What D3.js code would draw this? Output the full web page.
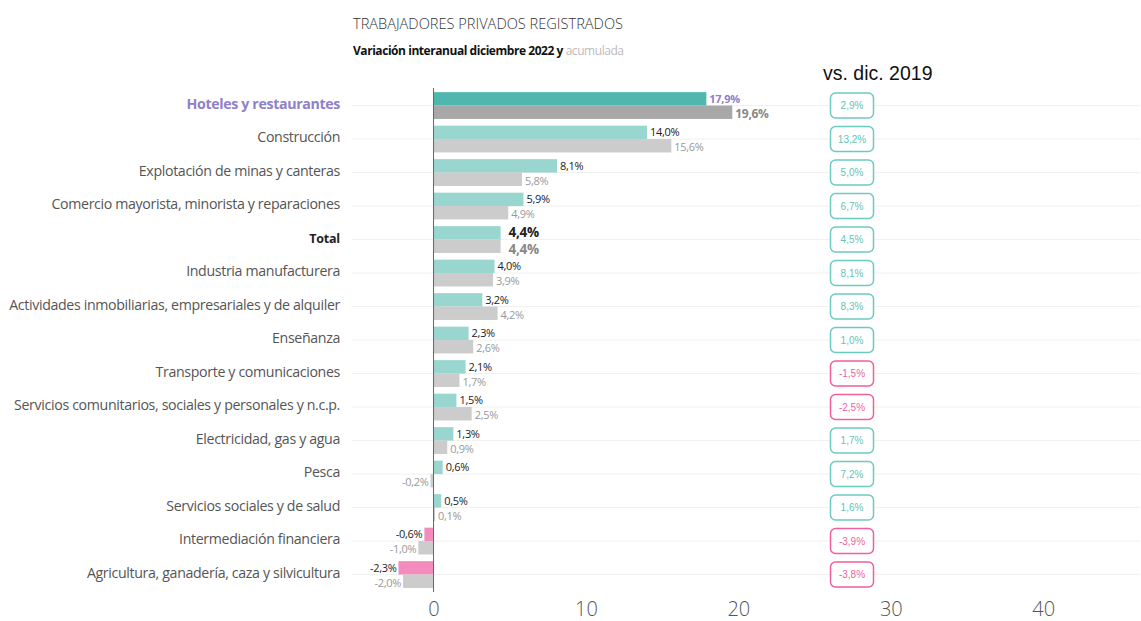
<!DOCTYPE html>
<html><head><meta charset="utf-8">
<script src="https://cdn.jsdelivr.net/npm/d3@7"></script>
<style>body{margin:0;background:#fff;} svg{display:block;}</style>
</head><body>
<svg id="chart" width="1141" height="621"></svg>
<script>
const categories = [
  "Hoteles y restaurantes","Construcción","Explotación de minas y canteras",
  "Comercio mayorista, minorista y reparaciones","Total","Industria manufacturera",
  "Actividades inmobiliarias, empresariales y de alquiler","Enseñanza",
  "Transporte y comunicaciones","Servicios comunitarios, sociales y personales y n.c.p.",
  "Electricidad, gas y agua","Pesca","Servicios sociales y de salud",
  "Intermediación financiera","Agricultura, ganadería, caza y silvicultura"];
const interanual = [17.9,14.0,8.1,5.9,4.4,4.0,3.2,2.3,2.1,1.5,1.3,0.6,0.5,-0.6,-2.3];
const acumulada  = [19.6,15.6,5.8,4.9,4.4,3.9,4.2,2.6,1.7,2.5,0.9,-0.2,0.1,-1.0,-2.0];
const vsDic2019  = [2.9,13.2,5.0,6.7,4.5,8.1,8.3,1.0,-1.5,-2.5,1.7,7.2,1.6,-3.9,-3.8];
const xTicks = [0,10,20,30,40];
const highlight = "Hoteles y restaurantes";
const totalCat = "Total";

const fmt = v => v.toFixed(1).replace(".", ",") + "%";
const svg = d3.select("#chart");
const x = d3.scaleLinear().domain([-5.35, 46.35]).range([352, 1140]);
const y = d3.scaleBand().domain(categories).range([88.5, 591]).paddingInner(0).paddingOuter(0);
const bh = 13.4;
const mid = c => y(c) + y.bandwidth()/2 + 0.3;

// title
svg.append("text").attr("x",353).attr("y",29).attr("font-family","Open Sans").attr("font-size",14.6)
  .attr("fill","#333").attr("font-weight",300).text("TRABAJADORES PRIVADOS REGISTRADOS");
const sub = svg.append("text").attr("x",353).attr("y",55).attr("font-family","Open Sans")
  .attr("font-size",12).attr("font-weight",700).attr("letter-spacing",-0.45).attr("fill","#111");
sub.append("tspan").text("Variación interanual diciembre 2022 y ");
sub.append("tspan").attr("fill","#bbb").attr("font-weight",400).text("acumulada");

svg.append("text").attr("x",823).attr("y",80).attr("font-family","Liberation Sans, Arial")
  .attr("font-size",19.5).attr("fill","#111").text("vs. dic. 2019");

// gridlines
svg.append("g").selectAll("line").data(categories).join("line")
  .attr("x1",352).attr("x2",1140).attr("y1",d=>mid(d)).attr("y2",d=>mid(d))
  .attr("stroke","#f0f0f0").attr("stroke-width",1);

// category labels
svg.append("g").selectAll("text").data(categories).join("text")
  .attr("x",340).attr("y",d=>mid(d)+3)
  .attr("text-anchor","end")
  .attr("font-family","Open Sans")
  .attr("font-size",d=> d===totalCat ? 12.5 : 14.2)
  .attr("font-weight",d=> d===highlight ? 700 : (d===totalCat ? 700 : 400))
  .attr("letter-spacing",d=> d===totalCat ? -0.2 : -0.35)
  .attr("fill",d=> d===highlight ? "#8f80c8" : (d===totalCat ? "#222" : "#555"))
  .text(d=>d);

// bars
const rows = categories.map((c,i)=>({c, a:interanual[i], b:acumulada[i], v:vsDic2019[i]}));
const gBars = svg.append("g");
gBars.selectAll("rect.a").data(rows).join("rect").attr("class","a")
  .attr("x",d=>x(Math.min(0,d.a))).attr("width",d=>Math.abs(x(d.a)-x(0)))
  .attr("y",d=>mid(d.c)-bh).attr("height",bh)
  .attr("fill",d=> d.c===highlight ? "#4fb7ad" : (d.a<0 ? "#f48bbd" : "#98d6cf"));
gBars.selectAll("rect.b").data(rows).join("rect").attr("class","b")
  .attr("x",d=>x(Math.min(0,d.b))).attr("width",d=>Math.abs(x(d.b)-x(0)))
  .attr("y",d=>mid(d.c)).attr("height",bh)
  .attr("fill",d=> d.c===highlight ? "#a8a8a8" : "#cccccc");

// value labels
const big = d => d.c===totalCat;
gBars.selectAll("text.a").data(rows).join("text").attr("class","a")
  .attr("x",d=> big(d) ? x(d.a)+8 : (d.a>=0 ? x(d.a)+3 : x(d.a)-2))
  .attr("y",d=> big(d) ? mid(d.c)-3 : mid(d.c)-3)
  .attr("text-anchor",d=> d.a>=0 ? "start":"end")
  .attr("font-family","Open Sans")
  .attr("font-size",d=> big(d)?13.5:11)
  .attr("font-weight",d=> (d.c===highlight||big(d))?700:400)
  .attr("letter-spacing",-0.3)
  .attr("fill",d=> d.c===highlight ? "#8f80c8" : "#222")
  .text(d=>fmt(d.a));
gBars.selectAll("text.b").data(rows).join("text").attr("class","b")
  .attr("x",d=> big(d) ? x(d.b)+8 : (d.b>=0 ? x(d.b)+3 : x(d.b)-2))
  .attr("y",d=> big(d) ? mid(d.c)+14 : mid(d.c)+12)
  .attr("text-anchor",d=> d.b>=0 ? "start":"end")
  .attr("font-family","Open Sans")
  .attr("font-size",d=> big(d)?13.5:(d.c===highlight?12:11))
  .attr("font-weight",d=> (d.c===highlight||big(d))?700:400)
  .attr("letter-spacing",-0.3)
  .attr("fill",d=> d.c===highlight ? "#888" : (big(d) ? "#888" : "#999"))
  .text(d=>fmt(d.b));

// zero axis line
svg.append("line").attr("x1",x(0)).attr("x2",x(0)).attr("y1",88).attr("y2",592)
  .attr("stroke","#666").attr("stroke-width",1);

// badges
const bg = svg.append("g").selectAll("g").data(rows).join("g")
  .attr("transform",d=>`translate(852,${mid(d.c)})`);
bg.append("rect").attr("x",-21.5).attr("y",-12.5).attr("width",43).attr("height",25).attr("rx",5)
  .attr("fill","#fff").attr("stroke",d=> d.v<0 ? "#ef5f9f" : "#6ccbc0").attr("stroke-width",1.5);
bg.append("text").attr("text-anchor","middle").attr("y",3.5)
  .attr("font-family","Liberation Sans, Arial").attr("font-size",10)
  .attr("fill",d=> d.v<0 ? "#ef5f9f" : "#5fc4b8").text(d=>fmt(d.v));

// x axis
const ax = svg.append("g").attr("transform","translate(0,594)")
  .call(d3.axisBottom(x).tickValues(xTicks).tickSize(0).tickPadding(8).tickFormat(d3.format("d")));
ax.select(".domain").remove();
ax.selectAll("text").attr("font-family","Open Sans").attr("font-size",20).attr("font-weight",300)
  .attr("fill","#555");
</script>
</body></html>
